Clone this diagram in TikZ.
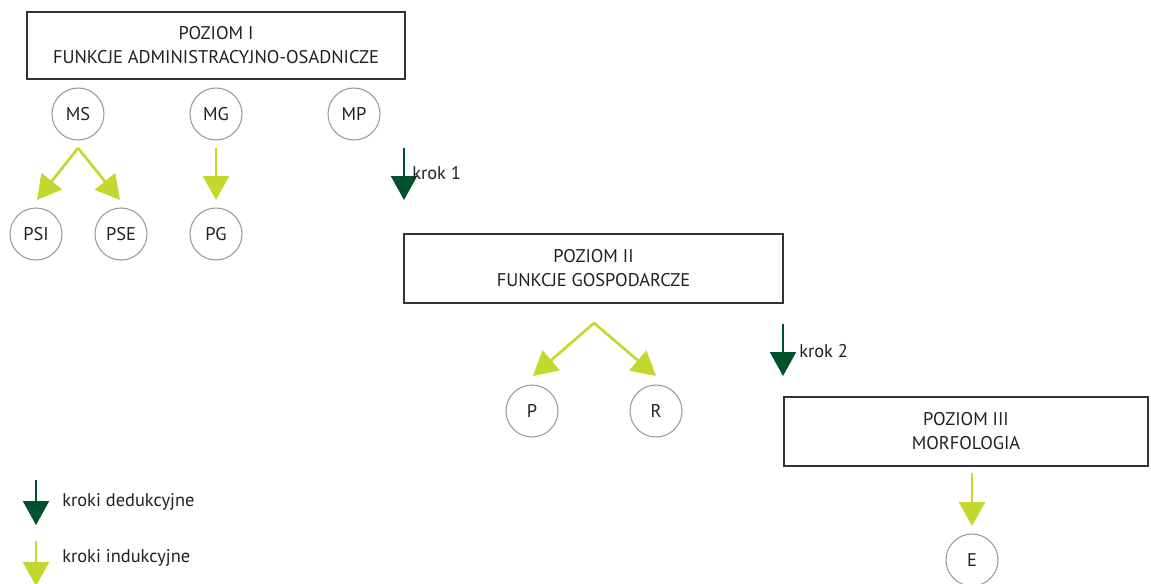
\documentclass[tikz,border=0pt]{standalone}
\usepackage{fontspec}
\setmainfont{PT Sans}
\usetikzlibrary{arrows.meta}
\definecolor{deduk}{HTML}{00522F}
\definecolor{induk}{HTML}{C3D72F}
\definecolor{ring}{HTML}{9A9A9A}
\definecolor{frame}{HTML}{333333}
\definecolor{ink}{HTML}{231F20}
\tikzset{
  level/.style={draw=frame, line width=1.1pt, text=ink, align=center,
    font=\fontsize{13.8}{18}\selectfont, inner sep=0pt},
  unit/.style={circle, draw=ring, line width=0.8pt, minimum size=39pt,
    inner sep=0pt, text=ink, font=\fontsize{13.8}{16}\selectfont},
  lbl/.style={text=ink, anchor=west, inner sep=0pt, font=\fontsize{13.8}{16}\selectfont},
  deduct/.style={draw=deduk, line width=1.6pt,
    -{Triangle[width=19.5pt, length=18pt]}},
  induct/.style={draw=induk, line width=2pt,
    -{Triangle[width=19.5pt, length=18pt]}}
}
\begin{document}
\begin{tikzpicture}[x=0.75pt, y=-0.75pt]
\useasboundingbox (0,0) rectangle (1151,583);
\begin{scope}
\clip (0,0) rectangle (1151,583);

% level boxes
\node[level, minimum width=283.5pt, minimum height=50.25pt] (L1) at (216,45.5)
  {POZIOM I\\FUNKCJE ADMINISTRACYJNO-OSADNICZE};
\node[level, minimum width=284.25pt, minimum height=51.75pt] (L2) at (593.5,268.5)
  {POZIOM II\\FUNKCJE GOSPODARCZE};
\node[level, minimum width=273pt, minimum height=51.75pt] (L3) at (966,431.5)
  {POZIOM III\\MORFOLOGIA};

% circles
\node[unit] (MS) at (78,114) {MS};
\node[unit] (MG) at (216,114) {MG};
\node[unit] (MP) at (354,114) {MP};
\node[unit] (PSI) at (36,234) {PSI};
\node[unit] (PSE) at (121,234) {PSE};
\node[unit] (PG) at (216,234) {PG};
\node[unit] (P) at (532,411) {P};
\node[unit] (R) at (656,411) {R};
\node[unit] (E) at (972,560) {E};

% branching points and arrow ends
\coordinate (msfork) at (78,148);
\coordinate (psitip) at (37,200);
\coordinate (psetip) at (120,200);
\coordinate (mgtop) at (216,148);
\coordinate (pgtip) at (216,200);
\coordinate (l2fork) at (594,323);
\coordinate (ptip) at (533,376);
\coordinate (rtip) at (656,376);
\coordinate (etop) at (972,473);
\coordinate (etip) at (972,526);
\coordinate (s1a) at (404,148);
\coordinate (s1b) at (404,200);
\coordinate (s2a) at (783,324);
\coordinate (s2b) at (783,376);

% inductive arrows
\draw[induct] (msfork) -- (psitip);
\draw[induct] (msfork) -- (psetip);
\draw[induct] (mgtop) -- (pgtip);
\draw[induct] (l2fork) -- (ptip);
\draw[induct] (l2fork) -- (rtip);
\draw[induct] (etop) -- (etip);

% deductive steps
\draw[deduct] (s1a) -- (s1b);
\node[lbl] (k1) at (412,173) {krok 1};
\draw[deduct] (s2a) -- (s2b);
\node[lbl] (k2) at (799,351) {krok 2};

% legend
\coordinate (ld1) at (36,480);
\coordinate (ld2) at (36,525);
\draw[deduct] (ld1) -- (ld2);
\node[lbl] (lt1) at (62,502) {kroki dedukcyjne};
\coordinate (li1) at (36,541);
\coordinate (li2) at (36,586);
\draw[induct] (li1) -- (li2);
\node[lbl] (lt2) at (62,558) {kroki indukcyjne};
\end{scope}
\end{tikzpicture}
\end{document}
